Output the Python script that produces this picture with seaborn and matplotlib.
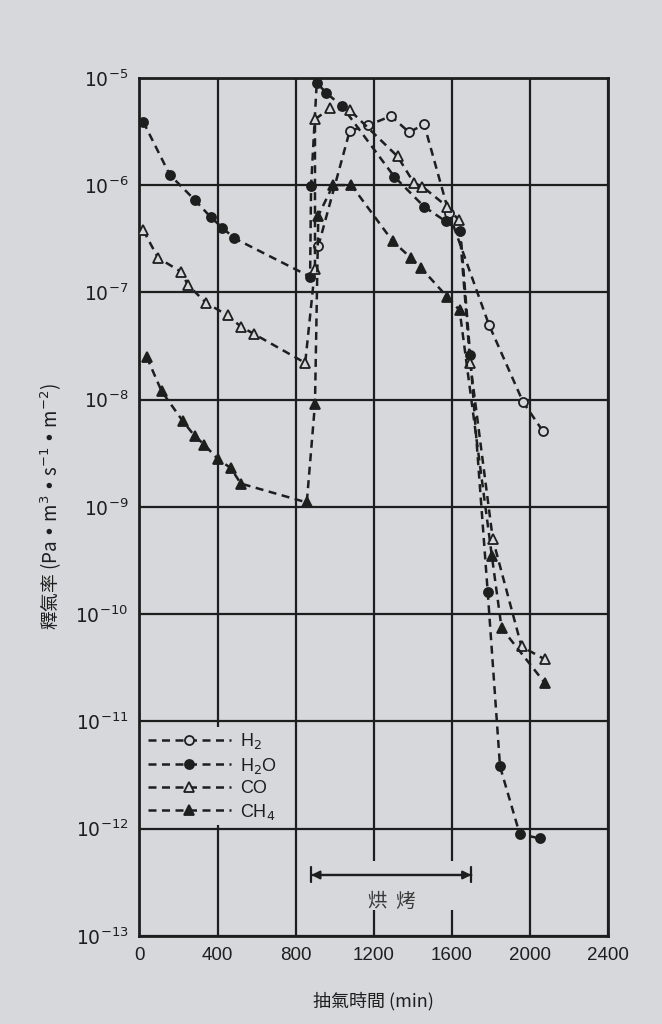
import numpy as np
import pandas as pd
import matplotlib
matplotlib.use("Agg")
import matplotlib.pyplot as plt
import matplotlib.patches as mpatches
import seaborn as sns

# ---------------- data ----------------
h2_t = [916, 1077, 1170, 1288, 1382, 1458, 1585, 1790, 1965, 2066]
h2_v = [2.7e-7, 3.2e-6, 3.6e-6, 4.4e-6, 3.1e-6, 3.7e-6, 5.5e-7, 5.0e-8, 9.5e-9, 5.1e-9]

h2o_t = [19, 155, 282, 366, 425, 485, 874, 879, 908, 958, 1035, 1305, 1458,
         1568, 1644, 1694, 1784, 1847, 1948, 2053]
h2o_v = [3.9e-6, 1.25e-6, 7.3e-7, 5.0e-7, 4.0e-7, 3.2e-7, 1.4e-7, 9.8e-7, 9.0e-6,
         7.2e-6, 5.5e-6, 1.2e-6, 6.3e-7, 4.6e-7, 3.7e-7, 2.6e-8, 1.6e-10,
         3.8e-12, 8.9e-13, 8.1e-13]

co_t = [19, 95, 214, 248, 341, 451, 519, 586, 849, 899, 899, 976, 1077, 1322,
        1407, 1449, 1576, 1636, 1694, 1810, 1957, 2075]
co_v = [3.8e-7, 2.1e-7, 1.55e-7, 1.17e-7, 8.0e-8, 6.1e-8, 4.8e-8, 4.1e-8, 2.2e-8,
        1.66e-7, 4.1e-6, 5.2e-6, 5.0e-6, 1.85e-6, 1.04e-6, 9.7e-7, 6.3e-7,
        4.7e-7, 2.2e-8, 5.0e-10, 5.0e-11, 3.8e-11]

ch4_t = [37, 113, 222, 282, 332, 400, 468, 519, 857, 899, 916, 992, 1085, 1297,
         1390, 1441, 1576, 1640, 1805, 1855, 2075]
ch4_v = [2.5e-8, 1.2e-8, 6.3e-9, 4.6e-9, 3.8e-9, 2.8e-9, 2.3e-9, 1.65e-9, 1.1e-9,
         9.1e-9, 5.2e-7, 1.0e-6, 1.0e-6, 3.0e-7, 2.1e-7, 1.7e-7, 9.1e-8, 6.8e-8,
         3.5e-10, 7.4e-11, 2.3e-11]

series_names = ["H$_2$", "H$_2$O", "CO", "CH$_4$"]
x_ticks = [0, 400, 800, 1200, 1600, 2000, 2400]
y_exponents = [-13, -12, -11, -10, -9, -8, -7, -6, -5]
bake_start, bake_end = 880, 1700
bake_label = "烘  烤"
x_label = "抽氣時間 (min)"
y_label = "釋氣率 (Pa • m$^3$ • s$^{-1}$ • m$^{-2}$)"

# ---------------- styling ----------------
sns.set_theme(style="white")
plt.rcParams["font.family"] = ["Liberation Sans", "Noto Sans CJK TC", "DejaVu Sans"]
plt.rcParams["mathtext.fontset"] = "dejavusans"

paper = "#d7d8db"
ink = "#1e1e1e"

fig = plt.figure(figsize=(6.62, 10.24), dpi=100, facecolor=paper)
ax = fig.add_axes([0.2107, 0.086, 0.9184 - 0.2107, 0.924 - 0.086])
ax.set_facecolor(paper)

frames = [
    (h2_t, h2_v, "o", paper),
    (h2o_t, h2o_v, "o", ink),
    (co_t, co_v, "^", paper),
    (ch4_t, ch4_v, "^", ink),
]
for name, (t, v, mk, fc) in zip(series_names, frames):
    df = pd.DataFrame({"t": t, "v": v})
    sns.lineplot(data=df, x="t", y="v", ax=ax, sort=False, estimator=None,
                 color=ink, linestyle=(0, (3.2, 2.2)), linewidth=1.8,
                 marker=mk, markersize=6.5 if mk == "o" else 7.5,
                 markerfacecolor=fc, markeredgecolor=ink, markeredgewidth=1.3,
                 label=name, zorder=3)

ax.set_yscale("log")
ax.set_xlim(0, 2400)
ax.set_ylim(1e-13, 1e-5)
ax.set_xticks(x_ticks)
ax.set_xticklabels([str(x) for x in x_ticks])
ax.set_yticks([10.0 ** e for e in y_exponents])
ax.set_yticklabels([f"$10^{{{e}}}$" for e in y_exponents])
ax.yaxis.set_minor_locator(matplotlib.ticker.NullLocator())
ax.tick_params(axis="both", length=0, labelsize=13.5, colors=ink, pad=8)

ax.set_axisbelow(True)
ax.grid(True, which="major", color=ink, linewidth=1.6)
for s in ax.spines.values():
    s.set_color(ink)
    s.set_linewidth(2.0)
    s.set_visible(True)

ax.set_xlabel(x_label, fontsize=13, color=ink, labelpad=20,
              family=["Noto Sans CJK TC", "DejaVu Sans"])
ax.set_ylabel(y_label, fontsize=13.5, color=ink, labelpad=8,
              family=["Noto Sans CJK TC", "DejaVu Sans"])

# bake annotation with paper-coloured patch hiding grid lines
ax.add_patch(mpatches.Rectangle((bake_start - 25, 1.75e-13), (bake_end - bake_start) + 55,
                                5.0e-13 - 1.75e-13, facecolor=paper, edgecolor="none",
                                zorder=1))
ax.annotate("", xy=(bake_start, 3.7e-13), xytext=(bake_end, 3.7e-13),
            arrowprops=dict(arrowstyle="<|-|>", color=ink, lw=1.6,
                            shrinkA=0, shrinkB=0, mutation_scale=12), zorder=4)
ax.annotate("", xy=(bake_start, 3.7e-13), xytext=(bake_end, 3.7e-13),
            arrowprops=dict(arrowstyle="|-|,widthA=0.45,widthB=0.45", color=ink, lw=1.6,
                            shrinkA=0, shrinkB=0), zorder=4)
ax.text((bake_start + bake_end) / 2 + 5, 2.1e-13, bake_label, ha="center", va="center",
        fontsize=14, color="#3a3a3a", family=["Noto Sans CJK TC", "DejaVu Sans"], zorder=4)

leg = ax.legend(loc="upper left", bbox_to_anchor=(0.01, 0.243), fontsize=13,
                handlelength=4.6, handletextpad=0.5, labelspacing=0.25,
                numpoints=1, frameon=True, borderpad=0.2, borderaxespad=0)
leg.get_frame().set_facecolor(paper)
leg.get_frame().set_edgecolor("none")
leg.get_frame().set_alpha(1)
for txt in leg.get_texts():
    txt.set_color(ink)

fig.savefig("out.png", dpi=100, facecolor=paper)
